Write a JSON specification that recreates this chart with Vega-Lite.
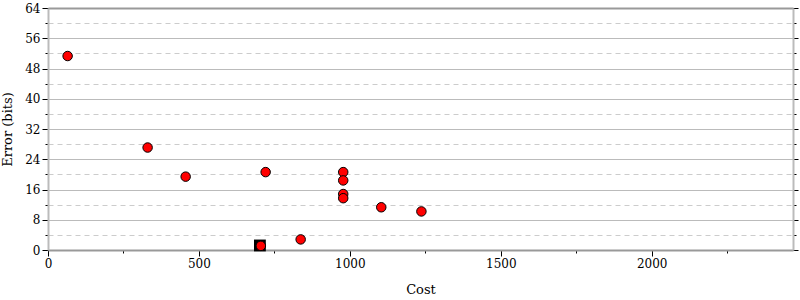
{
  "$schema": "https://vega.github.io/schema/vega-lite/v6.json",
  "width": 745,
  "height": 242,
  "autosize": {"type": "none"},
  "padding": {"left": 48, "top": 8, "right": 7, "bottom": 50},
  "config": {
    "view": {"stroke": null},
    "font": "DejaVu Serif",
    "axis": {
      "labelFont": "DejaVu Serif",
      "titleFont": "DejaVu Serif",
      "labelFontSize": 12,
      "titleFontSize": 13,
      "titleFontWeight": "normal",
      "labelColor": "black",
      "titleColor": "black",
      "tickColor": "black",
      "labelFlush": false
    }
  },
  "data": {
    "values": [
      {"cost": 702, "error": 1.2, "kind": "square"},
      {"cost": 65, "error": 51.3, "kind": "circle"},
      {"cost": 330, "error": 27.1, "kind": "circle"},
      {"cost": 456, "error": 19.4, "kind": "circle"},
      {"cost": 721, "error": 20.6, "kind": "circle"},
      {"cost": 978, "error": 20.6, "kind": "circle"},
      {"cost": 978, "error": 18.4, "kind": "circle"},
      {"cost": 978, "error": 14.8, "kind": "circle"},
      {"cost": 978, "error": 13.7, "kind": "circle"},
      {"cost": 1104, "error": 11.3, "kind": "circle"},
      {"cost": 1237, "error": 10.2, "kind": "circle"},
      {"cost": 837, "error": 2.8, "kind": "circle"},
      {"cost": 705, "error": 1.1, "kind": "circle"}
    ]
  },
  "layer": [
    {
      "transform": [{"filter": "datum.kind === 'square'"}],
      "mark": {"type": "square", "filled": true, "color": "black", "size": 140, "opacity": 1},
      "encoding": {
        "x": {
          "field": "cost", "type": "quantitative",
          "scale": {"domain": [0, 2468], "nice": false, "zero": false},
          "axis": {
            "orient": "bottom",
            "title": "Cost",
            "titlePadding": 14,
            "values": [0, 250, 500, 750, 1000, 1250, 1500, 1750, 2000, 2250],
            "labelExpr": "datum.value % 500 === 0 ? datum.label : ''",
            "format": "d",
            "grid": false,
            "labelFlush": false,
            "tickSize": {"condition": {"test": "datum.value % 500 === 0", "value": 6}, "value": 3},
            "labelPadding": 2,
            "domainColor": "#999999",
            "domainWidth": 2
          }
        },
        "y": {
          "field": "error", "type": "quantitative",
          "scale": {"domain": [0, 64], "nice": false, "zero": false},
          "axis": {
            "orient": "left",
            "title": "Error (bits)",
            "titlePadding": 10,
            "values": [0, 4, 8, 12, 16, 20, 24, 28, 32, 36, 40, 44, 48, 52, 56, 60, 64],
            "labelExpr": "datum.value % 8 === 0 ? datum.label : ''",
            "labelFlush": false,
            "grid": true,
            "gridColor": {"condition": {"test": "datum.value % 8 === 4", "value": "#cccccc"}, "value": "#bbbbbb"},
            "gridDash": {"condition": {"test": "datum.value % 8 === 4", "value": [5, 4]}, "value": []},
            "gridWidth": 1,
            "gridOpacity": 1,
            "tickSize": {"condition": {"test": "datum.value % 8 === 0", "value": 6}, "value": 3},
            "labelPadding": 2,
            "domainColor": "#bbbbbb",
            "domainWidth": 2
          }
        }
      }
    },
    {
      "transform": [{"filter": "datum.kind === 'circle'"}],
      "mark": {"type": "circle", "color": "#ff0000", "stroke": "black", "strokeWidth": 1, "size": 90, "opacity": 1},
      "encoding": {
        "x": {
          "field": "cost", "type": "quantitative",
          "axis": {
            "orient": "top",
            "title": null,
            "labels": false,
            "ticks": false,
            "grid": false,
            "domainColor": "#999999",
            "domainWidth": 2
          }
        },
        "y": {
          "field": "error", "type": "quantitative",
          "axis": {
            "orient": "right",
            "title": null,
            "labels": false,
            "grid": false,
            "values": [0, 4, 8, 12, 16, 20, 24, 28, 32, 36, 40, 44, 48, 52, 56, 60, 64],
            "tickSize": {"condition": {"test": "datum.value % 8 === 0", "value": 5}, "value": 3},
            "domainColor": "#bbbbbb",
            "domainWidth": 2
          }
        }
      }
    }
  ],
  "resolve": {"axis": {"x": "independent", "y": "independent"}}
}
